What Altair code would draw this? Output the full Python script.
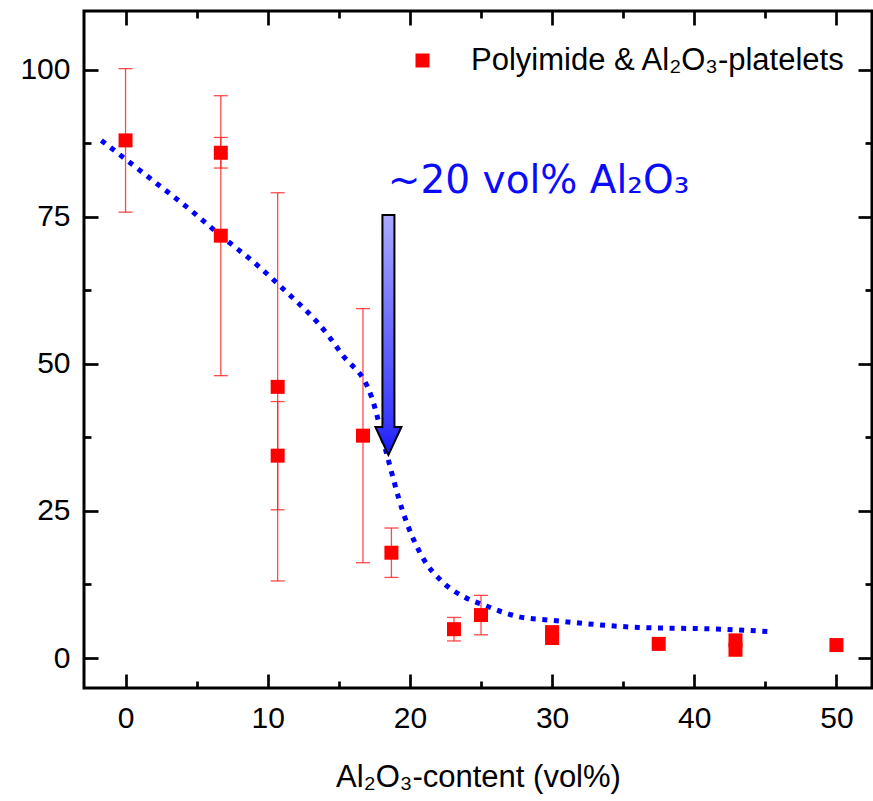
import altair as alt
import pandas as pd

# ---------------- data ----------------
pt_x = [0.0, 6.7, 6.7, 10.7, 10.7, 16.7, 18.7, 23.1, 25.0, 30.0, 30.0, 37.5, 42.9, 42.9, 50.0]
pt_y = [88.0, 85.9, 71.8, 46.1, 34.4, 37.8, 17.9, 4.9, 7.3, 4.4, 3.4, 2.4, 3.0, 1.4, 2.2]
pt_err = [12.2, 2.6, 23.8, 33.0, 9.2, 21.6, 4.2, 2.0, 3.35, 0, 0, 0, 0, 0, 0]

fit_x = [-1.7, 1.7, 5.0, 6.3, 9.4, 10.8, 14.3, 15.2, 17.3, 18.4, 19.5, 20.8, 22.4, 23.8,
         25.2, 27.7, 30.0, 36.1, 41.9, 45.2]
fit_y = [88.0, 81.6, 75.3, 72.6, 66.5, 63.4, 54.7, 51.7, 44.4, 34.4, 24.9, 17.5, 12.7, 10.4,
         9.0, 7.0, 6.4, 5.2, 4.9, 4.5]

arrow_x = [18.49]
arrow_top = [75.3]
arrow_neck = [39.3]
arrow_tip = [34.5]

x_major = [0, 10, 20, 30, 40, 50]
x_minor = [5, 15, 25, 35, 45]
y_major = [0, 25, 50, 75, 100]
y_minor = [12.5, 37.5, 62.5, 87.5]

series_name = "Polyimide & Al\u2082O\u2083-platelets"
x_title = "Al\u2082O\u2083-content (vol%)"
note_text = "~20 vol% Al\u2082O\u2083"

# ---------------- tables ----------------
pts = pd.DataFrame({"x": pt_x, "y": pt_y, "err": pt_err})
pts["lo"] = pts["y"] - pts["err"]
pts["hi"] = pts["y"] + pts["err"]
pts["series"] = series_name
errs = pts[pts["err"] > 0]
fit = pd.DataFrame({"x": fit_x, "y": fit_y})
arrow = pd.DataFrame({"x": arrow_x, "top": arrow_top, "neck": arrow_neck, "tip": arrow_tip})
arrow["head_mid"] = (arrow["neck"] + arrow["tip"]) / 2
arrow["cover_a"] = arrow["neck"] + 0.45
arrow["cover_b"] = arrow["neck"] - 0.2

W, H = 788, 677
FONT = "Liberation Sans"
xs = alt.Scale(domain=[-2.57, 52.15], nice=False, zero=False)
ys = alt.Scale(domain=[-5.1, 110.0], nice=False, zero=False)

def X(field, axis=None):
    return alt.X(field, type="quantitative", scale=xs, axis=axis)

def Y(field, axis=None):
    return alt.Y(field, type="quantitative", scale=ys, axis=axis)

# ---------------- axes (labels + inward ticks on all four sides) ----------------
main_axes = alt.Chart(pts).mark_point(opacity=0).encode(
    x=X("x", alt.Axis(values=x_major, orient="bottom", ticks=False, domain=False, grid=False,
                      labelFontSize=30, labelFont=FONT, labelColor="black", labelPadding=15,
                      title=x_title, titleFontSize=31, titleFont=FONT, titleFontWeight="normal",
                      titleColor="black", titlePadding=29)),
    y=Y("y", alt.Axis(values=y_major, orient="left", ticks=False, domain=False, grid=False,
                      labelFontSize=30, labelFont=FONT, labelColor="black", labelPadding=14,
                      title=None)),
)

def tick_axes(xv, yv, size, xorient, yorient):
    return alt.Chart(pts).mark_point(opacity=0).encode(
        x=X("x", alt.Axis(values=xv, orient=xorient, offset=-H, ticks=True, tickSize=size,
                          tickWidth=2.7, tickColor="black", labels=False, domain=False,
                          grid=False, title=None)),
        y=Y("y", alt.Axis(values=yv, orient=yorient, offset=-W, ticks=True, tickSize=size,
                          tickWidth=2.7, tickColor="black", labels=False, domain=False,
                          grid=False, title=None)),
    )

ax_bl_major = tick_axes(x_major, y_major, 14, "top", "right")
ax_bl_minor = tick_axes(x_minor, y_minor, 7, "top", "right")
ax_tr_major = tick_axes(x_major, y_major, 14, "bottom", "left")
ax_tr_minor = tick_axes(x_minor, y_minor, 7, "bottom", "left")

# ---------------- data marks ----------------
err_color = "#ff2a2a"
bars = alt.Chart(errs).mark_rule(color=err_color, strokeWidth=1.3, opacity=0.85).encode(
    x=X("x"), y=Y("lo"), y2="hi")
caps_hi = alt.Chart(errs).mark_tick(color=err_color, orient="horizontal", size=14,
                                    thickness=1.3, opacity=0.85).encode(x=X("x"), y=Y("hi"))
caps_lo = alt.Chart(errs).mark_tick(color=err_color, orient="horizontal", size=14,
                                    thickness=1.3, opacity=0.85).encode(x=X("x"), y=Y("lo"))

squares = alt.Chart(pts).mark_square(size=196, opacity=1, filled=True).encode(
    x=X("x"), y=Y("y"),
    color=alt.Color("series:N", scale=alt.Scale(range=["#ff0000"]),
                    legend=alt.Legend(title=None, orient="none", legendX=323, legendY=34,
                                      symbolType="square", symbolSize=196, symbolOpacity=1,
                                      symbolStrokeWidth=0, labelFontSize=31, labelFont=FONT,
                                      labelColor="black", labelOffset=33, padding=0,
                                      labelLimit=600)),
)

curve = alt.Chart(fit).mark_line(color="#0000ff", strokeWidth=5, strokeDash=[5, 6.6],
                                 strokeCap="butt", interpolate="monotone").encode(
    x=X("x"), y=Y("y"))

shaft_grad = alt.LinearGradient(gradient="linear", x1=0, y1=0, x2=0, y2=1,
                                stops=[alt.GradientStop(color="#aaaaff", offset=0),
                                       alt.GradientStop(color="#3636ff", offset=1)])
head_grad = alt.LinearGradient(gradient="linear", x1=0, y1=0, x2=0, y2=1,
                               stops=[alt.GradientStop(color="#3434ff", offset=0),
                                      alt.GradientStop(color="#1414ff", offset=1)])

shaft = alt.Chart(arrow).mark_bar(size=12, color=shaft_grad, stroke="black",
                                  strokeWidth=2).encode(x=X("x"), y=Y("top"), y2="neck")
head = alt.Chart(arrow).mark_point(shape="M -0.93 -1 L 0.93 -1 L 0 1 Z", size=784,
                                   filled=True, color=head_grad, stroke="black",
                                   strokeWidth=2, opacity=1).encode(x=X("x"), y=Y("head_mid"))
cover = alt.Chart(arrow).mark_bar(size=10, color="#3535ff").encode(
    x=X("x"), y=Y("cover_a"), y2="cover_b")

note = alt.Chart(pd.DataFrame({"x": [18.45], "y": [79.1], "t": [note_text]})).mark_text(
    align="left", baseline="alphabetic", fontSize=39, font="DejaVu Sans", color="#0a0aff"
).encode(x=X("x"), y=Y("y"), text="t:N")

chart = alt.layer(
    main_axes, ax_bl_major, ax_bl_minor, ax_tr_major, ax_tr_minor,
    bars, caps_hi, caps_lo, curve, squares, shaft, head, cover, note,
).resolve_axis(x="independent", y="independent").properties(
    width=W, height=H,
    autosize=alt.AutoSizeParams(type="none"),
    padding={"left": 84, "top": 11, "right": 1, "bottom": 113},
    background="white",
).configure_view(stroke="black", strokeWidth=3)

chart.save("out.html", embed_options={"renderer": "svg", "actions": False})
